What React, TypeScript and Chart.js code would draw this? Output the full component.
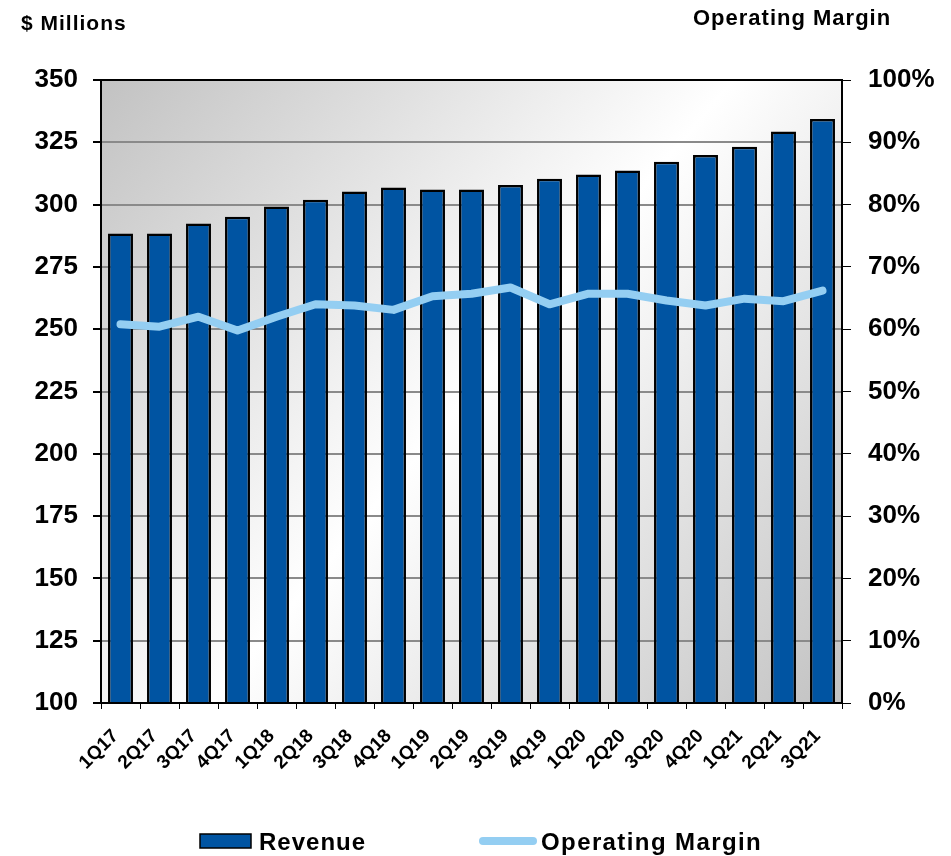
import React, { useEffect, useRef } from "react";
import { Chart, registerables } from "chart.js";

Chart.register(...registerables);

const quarters = ["1Q17","2Q17","3Q17","4Q17","1Q18","2Q18","3Q18","4Q18","1Q19","2Q19","3Q19","4Q19","1Q20","2Q20","3Q20","4Q20","1Q21","2Q21","3Q21"];
const revenue = [288.4,288.4,292.4,295.1,299.2,301.9,305.3,306.9,306.1,306.1,307.9,310.4,312.1,313.7,317.2,319.9,323.2,329.3,334.3];
const operatingMargin = [0.608,0.604,0.62,0.598,0.62,0.64,0.638,0.631,0.653,0.657,0.667,0.640,0.657,0.657,0.646,0.638,0.649,0.645,0.662];
const leftTicks = [100,125,150,175,200,225,250,275,300,325,350];
const rightTicks = [0,0.1,0.2,0.3,0.4,0.5,0.6,0.7,0.8,0.9,1];

const FONT = "'Liberation Sans', Arial, sans-serif";
const BAR_COLOR = "#0054A2";
const LINE_COLOR = "#94CEF2";

const decorPlugin = {
  id: "decor",
  beforeDraw(chart: any) {
    const { ctx, chartArea: a } = chart;
    const g = ctx.createLinearGradient(a.left, a.top, a.right, a.bottom);
    g.addColorStop(0, "#c2c2c2");
    g.addColorStop(0.5, "#ffffff");
    g.addColorStop(1, "#c2c2c2");
    ctx.save();
    ctx.fillStyle = g;
    ctx.fillRect(a.left, a.top, a.right - a.left, a.bottom - a.top);
    ctx.restore();
  },
  afterDraw(chart: any) {
    const { ctx, chartArea: a } = chart;
    ctx.save();
    ctx.strokeStyle = "#000";
    ctx.lineWidth = 2;
    ctx.strokeRect(a.left, a.top, a.right - a.left, a.bottom - a.top);
    ctx.fillStyle = "#000";
    (ctx as any).letterSpacing = "1px";
    ctx.font = `bold 21px ${FONT}`;
    ctx.textBaseline = "alphabetic";
    ctx.textAlign = "left";
    ctx.fillText("$ Millions", 21, 30);
    ctx.font = `bold 22px ${FONT}`;
    ctx.fillText("Operating Margin", 693, 25);
    // legend
    const ly = 841;
    ctx.fillStyle = BAR_COLOR;
    ctx.fillRect(200, ly - 7, 51, 14);
    ctx.strokeStyle = "#000";
    ctx.lineWidth = 1.5;
    ctx.strokeRect(200, ly - 7, 51, 14);
    ctx.fillStyle = "#000";
    ctx.font = `bold 24px ${FONT}`;
    ctx.textAlign = "left";
    ctx.textBaseline = "alphabetic";
    ctx.fillText("Revenue", 259, 850);
    ctx.strokeStyle = LINE_COLOR;
    ctx.lineWidth = 8;
    ctx.lineCap = "round";
    ctx.beginPath();
    ctx.moveTo(483, ly);
    ctx.lineTo(533, ly);
    ctx.stroke();
    (ctx as any).letterSpacing = "1.4px";
    ctx.fillText("Operating Margin", 541, 850);
    ctx.restore();
  },
};

export default function App() {
  const ref = useRef<HTMLCanvasElement | null>(null);
  useEffect(() => {
    if (!ref.current) return;
    const chart = new Chart(ref.current, {
      type: "bar",
      data: {
        labels: quarters,
        datasets: [
          {
            type: "line",
            label: "Operating Margin",
            data: operatingMargin,
            yAxisID: "y1",
            borderColor: LINE_COLOR,
            backgroundColor: LINE_COLOR,
            borderWidth: 8,
            borderCapStyle: "round",
            borderJoinStyle: "round",
            pointRadius: 0,
            tension: 0,
            order: 0,
          } as any,
          {
            type: "bar",
            label: "Revenue",
            data: revenue,
            yAxisID: "y",
            backgroundColor: BAR_COLOR,
            borderColor: "#000",
            borderWidth: 2.5,
            borderSkipped: false,
            barPercentage: 0.64,
            categoryPercentage: 1,
            order: 1,
          } as any,
        ],
      },
      options: {
        responsive: false,
        animation: false,
        devicePixelRatio: 1,
        layout: { padding: { top: 80, left: 0, right: 0, bottom: 0 } },
        plugins: { legend: { display: false }, tooltip: { enabled: false } },
        scales: {
          x: {
            afterFit: (s: any) => { s.height = 153; },
            grid: { drawOnChartArea: false, drawTicks: true, tickLength: 6, tickColor: "#000", offset: true },
            border: { color: "#000", width: 2 },
            ticks: {
              minRotation: 45,
              maxRotation: 45,
              color: "#000",
              font: { family: FONT, weight: "bold", size: 19 },
              padding: 16,
              labelOffset: -5,
            },
          },
          y: {
            position: "left",
            min: 100,
            max: 350,
            afterFit: (s: any) => { s.width = 101; },
            afterBuildTicks: (s: any) => { s.ticks = leftTicks.map((v) => ({ value: v })); },
            grid: { color: "#8a8a8a", lineWidth: 2, tickLength: 8, tickColor: "#000" },
            border: { color: "#000", width: 2 },
            ticks: {
              color: "#000",
              font: { family: FONT, weight: "bold", size: 26 },
              padding: 15,
            },
          },
          y1: {
            position: "right",
            min: 0,
            max: 1,
            afterFit: (s: any) => { s.width = 109; },
            afterBuildTicks: (s: any) => { s.ticks = rightTicks.map((v) => ({ value: v })); },
            grid: { drawOnChartArea: false, tickLength: 9, tickColor: "#000" },
            border: { color: "#000", width: 2 },
            ticks: {
              color: "#000",
              font: { family: FONT, weight: "bold", size: 26 },
              padding: 17,
              callback: (v: any) => `${Math.round(Number(v) * 100)}%`,
            },
          },
        },
      },
      plugins: [decorPlugin],
    });
    return () => chart.destroy();
  }, []);
  return (
    <div style={{ position: "absolute", left: 0, top: 0, width: 951, height: 856, background: "#fff" }}>
      <canvas ref={ref} width={951} height={856} style={{ width: 951, height: 856 }} />
    </div>
  );
}
